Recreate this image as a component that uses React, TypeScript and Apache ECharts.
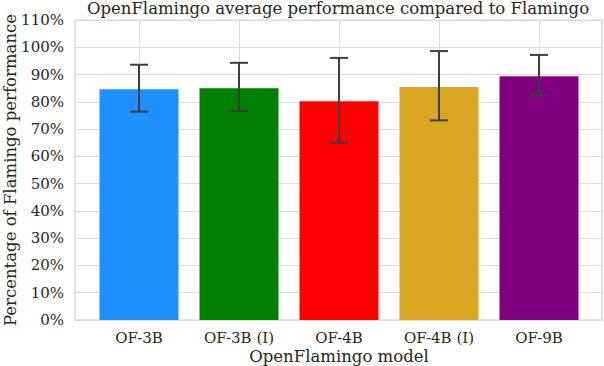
import React, { useEffect, useRef } from "react";
import * as echarts from "echarts";

const categories = ["OF-3B", "OF-3B (I)", "OF-4B", "OF-4B (I)", "OF-9B"];
const means = [84.6, 85.0, 80.2, 85.4, 89.4];
const errLow = [76.4, 76.6, 65.0, 73.2, 82.4];
const errHigh = [93.6, 94.3, 96.1, 98.6, 97.2];
const colors = ["#1E90FF", "#008000", "#FF0000", "#DAA520", "#800080"];
const yTicks = { min: 0, max: 110, interval: 10 };

const FONT = "DejaVu Serif";
const TXT = "#262626";
const GRID = "#dcdcdc";

export default function App() {
  const ref = useRef<HTMLDivElement>(null);
  useEffect(() => {
    if (!ref.current) return;
    const chart = echarts.init(ref.current, undefined, { renderer: "svg" });
    const errData = categories.map((_, i) => [i, errLow[i], errHigh[i]]);
    chart.setOption({
      animation: false,
      backgroundColor: "#ffffff",
      textStyle: { fontFamily: FONT, color: TXT },
      title: {
        text: "OpenFlamingo average performance compared to Flamingo",
        left: 338,
        textAlign: "center",
        top: 0,
        padding: 0,
        textStyle: { fontFamily: FONT, fontSize: 16.5, fontWeight: "normal", color: TXT },
      },
      grid: [
        { left: 75, right: 2, top: 20, bottom: 46, containLabel: false, outerBoundsMode: "none", show: true, borderColor: "#cfcfcf", borderWidth: 1.25, backgroundColor: "#ffffff" },
        { left: 139, right: 65, top: 20, bottom: 46, containLabel: false, outerBoundsMode: "none" },
      ],
      xAxis: [
        { type: "value", gridIndex: 0, min: 0, max: 1, show: false },
        {
          type: "category",
          gridIndex: 1,
          data: categories,
          boundaryGap: false,
          axisLine: { show: false },
          axisTick: { show: false },
          axisLabel: { fontFamily: FONT, fontSize: 15, color: TXT, margin: 10 },
          splitLine: { show: true, lineStyle: { color: GRID, width: 1 } },
          name: "OpenFlamingo model",
          nameLocation: "middle",
          nameGap: 28,
          nameMoveOverlap: false,
          nameTextStyle: { fontFamily: FONT, fontSize: 16.5, color: TXT },
        },
      ],
      yAxis: [
        {
          type: "value",
          gridIndex: 0,
          ...yTicks,
          axisLine: { show: false },
          axisTick: { show: false },
          axisLabel: { fontFamily: FONT, fontSize: 15, color: TXT, margin: 11, formatter: "{value}%" },
          splitLine: { show: true, lineStyle: { color: GRID, width: 1 } },
          name: "Percentage of Flamingo performance",
          nameLocation: "middle",
          nameGap: 56,
          nameMoveOverlap: false,
          nameTextStyle: { fontFamily: FONT, fontSize: 16.5, color: TXT },
        },
        { type: "value", gridIndex: 1, ...yTicks, show: false, splitLine: { show: false } },
      ],
      series: [
        {
          type: "bar",
          xAxisIndex: 1,
          yAxisIndex: 1,
          barWidth: 79,
          clip: false,
          data: means.map((v, i) => ({ value: v, itemStyle: { color: colors[i] } })),
        },
        {
          type: "custom",
          xAxisIndex: 1,
          yAxisIndex: 1,
          clip: false,
          z: 5,
          data: errData,
          renderItem: (params: any, api: any) => {
            const x = api.value(0);
            const lo = api.coord([x, api.value(1)]);
            const hi = api.coord([x, api.value(2)]);
            const cap = 9;
            const style = { stroke: "#3d3d3d", lineWidth: 2 };
            return {
              type: "group",
              children: [
                { type: "line", shape: { x1: lo[0], y1: lo[1], x2: hi[0], y2: hi[1] }, style },
                { type: "line", shape: { x1: lo[0] - cap, y1: lo[1], x2: lo[0] + cap, y2: lo[1] }, style },
                { type: "line", shape: { x1: hi[0] - cap, y1: hi[1], x2: hi[0] + cap, y2: hi[1] }, style },
              ],
            };
          },
        },
      ],
    });
    return () => chart.dispose();
  }, []);
  return <div ref={ref} style={{ position: "fixed", left: 0, top: 0, width: 604, height: 366 }} />;
}
